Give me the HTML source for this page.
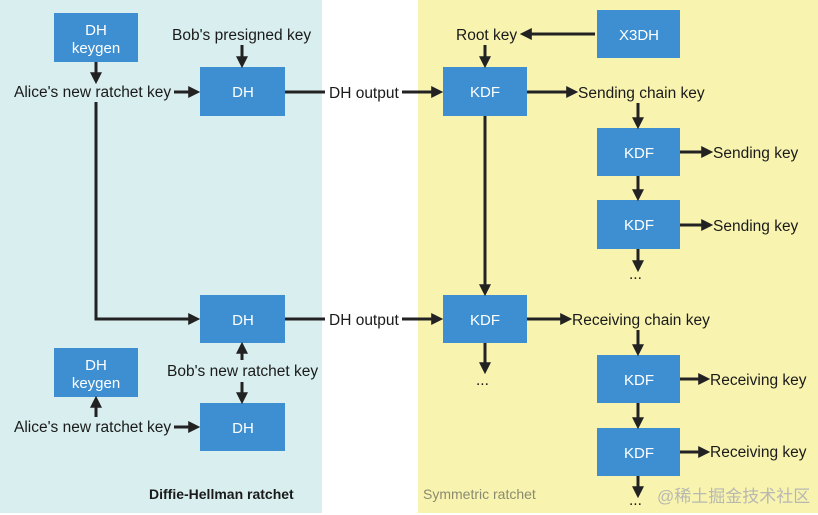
<!DOCTYPE html>
<html><head><meta charset="utf-8"><style>
body{margin:0;background:#fff}
svg{display:block}
text{font-family:"Liberation Sans","Noto Sans CJK SC",sans-serif;font-size:15.5px;fill:#1a1a1a}
.b{fill:#3d8fd1}
.w{fill:#fff;font-size:15px;text-anchor:middle}
.l{stroke:#222;stroke-width:3;fill:none}
</style></head><body>
<svg width="818" height="515" viewBox="0 0 818 515">
<defs><marker id="a" markerWidth="4" markerHeight="4" refX="2.6" refY="2" orient="auto" markerUnits="strokeWidth"><path d="M0,0 L4,2 L0,4 z" fill="#222"/></marker></defs>
<rect x="0" y="0" width="322" height="513" fill="#d9eeee"/>
<rect x="418" y="0" width="400" height="513" fill="#f8f4b0"/>
<rect class="b" x="54" y="13" width="84" height="49"/>
<text class="w" x="96" y="35">DH</text><text class="w" x="96" y="53">keygen</text>
<rect class="b" x="200" y="67" width="85" height="49"/><text class="w" x="243" y="97">DH</text>
<rect class="b" x="200" y="295" width="85" height="48"/><text class="w" x="243" y="325">DH</text>
<rect class="b" x="54" y="348" width="84" height="49"/>
<text class="w" x="96" y="370">DH</text><text class="w" x="96" y="388">keygen</text>
<rect class="b" x="200" y="403" width="85" height="48"/><text class="w" x="243" y="433">DH</text>
<rect class="b" x="597" y="10" width="83" height="48"/><text class="w" x="639" y="40">X3DH</text>
<rect class="b" x="443" y="67" width="84" height="49"/><text class="w" x="485" y="97">KDF</text>
<rect class="b" x="597" y="128" width="83" height="48"/><text class="w" x="639" y="158">KDF</text>
<rect class="b" x="597" y="200" width="83" height="49"/><text class="w" x="639" y="230">KDF</text>
<rect class="b" x="443" y="295" width="84" height="48"/><text class="w" x="485" y="325">KDF</text>
<rect class="b" x="597" y="355" width="83" height="48"/><text class="w" x="639" y="385">KDF</text>
<rect class="b" x="597" y="428" width="83" height="48"/><text class="w" x="639" y="458">KDF</text>
<text x="172" y="40">Bob's presigned key</text>
<text x="14" y="97">Alice's new ratchet key</text>
<text x="329" y="98">DH output</text>
<text x="329" y="325">DH output</text>
<text x="456" y="40">Root key</text>
<text x="578" y="98">Sending chain key</text>
<text x="713" y="158">Sending key</text>
<text x="713" y="231">Sending key</text>
<text x="572" y="325">Receiving chain key</text>
<text x="710" y="385">Receiving key</text>
<text x="710" y="457">Receiving key</text>
<text x="167" y="376">Bob's new ratchet key</text>
<text x="14" y="432">Alice's new ratchet key</text>
<text x="629" y="279">...</text>
<text x="476" y="385">...</text>
<text x="629" y="505">...</text>
<text x="149" y="499" style="font-weight:bold;font-size:14px">Diffie-Hellman ratchet</text>
<text x="423" y="499" style="font-size:14px;fill:#8a8a70">Symmetric ratchet</text>
<text x="657" y="502" style="font-size:17px;fill:#b8b8b0">@稀土掘金技术社区</text>
<path class="l" d="M96 62 V80" marker-end="url(#a)"/>
<path class="l" d="M242 45 V64" marker-end="url(#a)"/>
<path class="l" d="M174 92 H196" marker-end="url(#a)"/>
<path class="l" d="M285 92 H325"/>
<path class="l" d="M402 92 H439" marker-end="url(#a)"/>
<path class="l" d="M595 34 H524" marker-end="url(#a)"/>
<path class="l" d="M485 45 V64" marker-end="url(#a)"/>
<path class="l" d="M527 92 H574" marker-end="url(#a)"/>
<path class="l" d="M638 103 V125" marker-end="url(#a)"/>
<path class="l" d="M680 152 H709" marker-end="url(#a)"/>
<path class="l" d="M638 176 V197" marker-end="url(#a)"/>
<path class="l" d="M680 225 H709" marker-end="url(#a)"/>
<path class="l" d="M638 249 V268" marker-end="url(#a)"/>
<path class="l" d="M96 102 V319 H196" marker-end="url(#a)"/>
<path class="l" d="M285 319 H325"/>
<path class="l" d="M402 319 H439" marker-end="url(#a)"/>
<path class="l" d="M485 116 V292" marker-end="url(#a)"/>
<path class="l" d="M527 319 H568" marker-end="url(#a)"/>
<path class="l" d="M485 343 V370" marker-end="url(#a)"/>
<path class="l" d="M638 330 V352" marker-end="url(#a)"/>
<path class="l" d="M680 379 H706" marker-end="url(#a)"/>
<path class="l" d="M638 403 V425" marker-end="url(#a)"/>
<path class="l" d="M680 452 H706" marker-end="url(#a)"/>
<path class="l" d="M638 476 V494" marker-end="url(#a)"/>
<path class="l" d="M242 360 V346" marker-end="url(#a)"/>
<path class="l" d="M242 382 V400" marker-end="url(#a)"/>
<path class="l" d="M96 417 V400" marker-end="url(#a)"/>
<path class="l" d="M174 427 H196" marker-end="url(#a)"/>
</svg>
</body></html>
